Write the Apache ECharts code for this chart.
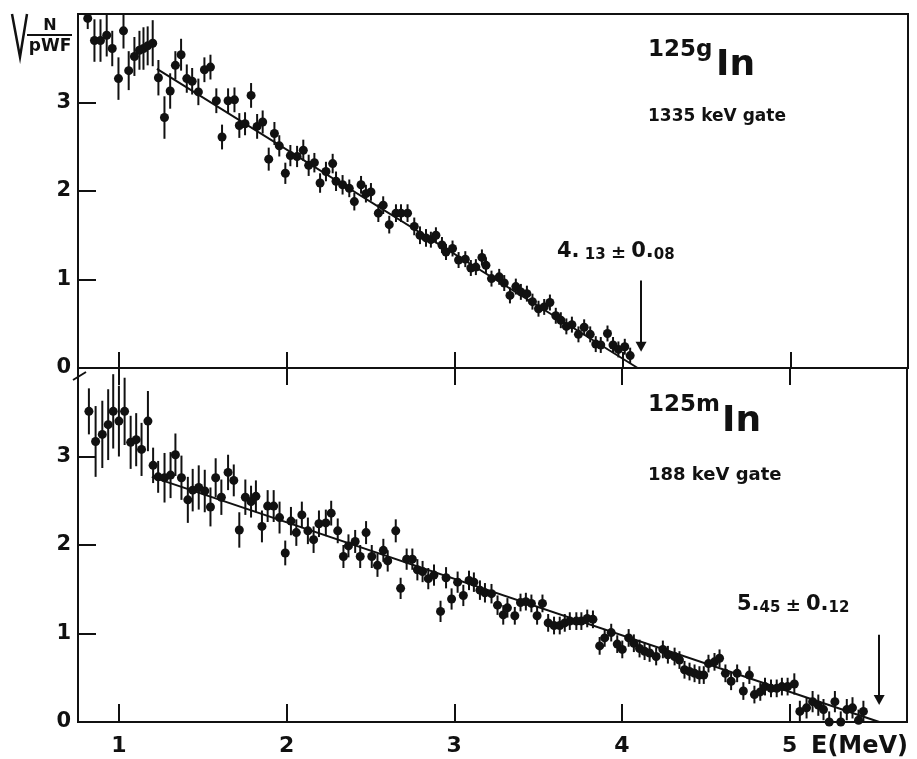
<!DOCTYPE html>
<html>
<head>
<meta charset="utf-8">
<script src="https://cdn.jsdelivr.net/npm/echarts@6/dist/echarts.min.js"></script>
<style>
  html, body { margin: 0; padding: 0; background: #fff; }
  #chart { width: 917px; height: 759px; }
</style>
</head>
<body>
<div id="chart"></div>
<script>
// energy axis (MeV)
const xTicks = [1, 2, 3, 4, 5];
const yTicks = [0, 1, 2, 3];

// 125g In, 1335 keV gate: [E, sqrt(N/pWF), error]
const topPoints = [
  [0.814, 3.95, 0.12], [0.854, 3.70, 0.24], [0.890, 3.70, 0.24], [0.927, 3.76, 0.24],
  [0.960, 3.61, 0.20], [0.997, 3.27, 0.24], [1.027, 3.81, 0.20], [1.058, 3.36, 0.22],
  [1.092, 3.52, 0.22], [1.122, 3.59, 0.22], [1.146, 3.61, 0.24], [1.171, 3.64, 0.22],
  [1.201, 3.67, 0.26], [1.235, 3.28, 0.20], [1.271, 2.83, 0.24], [1.305, 3.13, 0.20],
  [1.336, 3.42, 0.16], [1.370, 3.54, 0.18], [1.404, 3.27, 0.16], [1.436, 3.24, 0.15],
  [1.473, 3.12, 0.15], [1.509, 3.37, 0.14], [1.545, 3.40, 0.14], [1.580, 3.02, 0.14],
  [1.614, 2.61, 0.14], [1.650, 3.02, 0.14], [1.688, 3.03, 0.14], [1.717, 2.74, 0.14],
  [1.751, 2.76, 0.13], [1.787, 3.08, 0.14], [1.823, 2.73, 0.14], [1.856, 2.78, 0.13],
  [1.892, 2.36, 0.13], [1.926, 2.65, 0.13], [1.955, 2.51, 0.12], [1.991, 2.20, 0.12],
  [2.021, 2.40, 0.12], [2.061, 2.39, 0.12], [2.098, 2.46, 0.12], [2.130, 2.29, 0.12],
  [2.164, 2.32, 0.11], [2.198, 2.09, 0.11], [2.233, 2.22, 0.11], [2.273, 2.31, 0.11],
  [2.293, 2.11, 0.11], [2.332, 2.07, 0.11], [2.372, 2.03, 0.10], [2.402, 1.88, 0.10],
  [2.442, 2.07, 0.10], [2.471, 1.97, 0.10], [2.501, 1.99, 0.10], [2.545, 1.75, 0.10],
  [2.574, 1.84, 0.10], [2.610, 1.62, 0.10], [2.650, 1.75, 0.10], [2.680, 1.75, 0.10],
  [2.719, 1.75, 0.10], [2.759, 1.60, 0.10], [2.793, 1.50, 0.10], [2.829, 1.47, 0.10],
  [2.858, 1.45, 0.09], [2.888, 1.50, 0.09], [2.924, 1.39, 0.09], [2.948, 1.31, 0.09],
  [2.987, 1.35, 0.09], [3.023, 1.22, 0.09], [3.063, 1.23, 0.09], [3.096, 1.13, 0.09],
  [3.126, 1.14, 0.09], [3.162, 1.25, 0.09], [3.186, 1.16, 0.09], [3.219, 1.01, 0.09],
  [3.265, 1.03, 0.09], [3.295, 0.96, 0.09], [3.329, 0.82, 0.09], [3.364, 0.92, 0.09],
  [3.394, 0.86, 0.09], [3.430, 0.84, 0.09], [3.463, 0.75, 0.09], [3.499, 0.67, 0.09],
  [3.533, 0.69, 0.09], [3.567, 0.74, 0.09], [3.602, 0.59, 0.09], [3.632, 0.54, 0.09],
  [3.665, 0.47, 0.09], [3.698, 0.49, 0.09], [3.737, 0.38, 0.09], [3.771, 0.46, 0.09],
  [3.807, 0.38, 0.09], [3.840, 0.27, 0.09], [3.870, 0.26, 0.09], [3.910, 0.39, 0.09],
  [3.943, 0.26, 0.09], [3.975, 0.21, 0.09], [4.013, 0.24, 0.09], [4.045, 0.14, 0.09]
];
const topFit = [[1.226, 3.38], [4.09, 0]];
const topArrow = [[4.11, 0.99], [4.11, 0.24]];

// 125m In, 188 keV gate: [E, sqrt(N/pWF), error]
const botPoints = [
  [0.821, 3.51, 0.26], [0.861, 3.17, 0.40], [0.901, 3.25, 0.38], [0.936, 3.36, 0.40],
  [0.966, 3.51, 0.42], [1.000, 3.40, 0.40], [1.034, 3.51, 0.38], [1.070, 3.16, 0.30],
  [1.103, 3.19, 0.30], [1.135, 3.08, 0.30], [1.173, 3.40, 0.34], [1.204, 2.90, 0.20],
  [1.234, 2.77, 0.18], [1.272, 2.76, 0.28], [1.308, 2.79, 0.26], [1.337, 3.02, 0.24],
  [1.373, 2.76, 0.25], [1.411, 2.51, 0.26], [1.440, 2.62, 0.24], [1.476, 2.65, 0.25],
  [1.512, 2.61, 0.24], [1.546, 2.43, 0.22], [1.577, 2.76, 0.22], [1.611, 2.54, 0.20],
  [1.651, 2.82, 0.20], [1.685, 2.73, 0.18], [1.718, 2.17, 0.20], [1.754, 2.54, 0.20],
  [1.788, 2.49, 0.18], [1.817, 2.55, 0.18], [1.853, 2.21, 0.18], [1.887, 2.44, 0.18],
  [1.923, 2.44, 0.18], [1.958, 2.31, 0.18], [1.992, 1.91, 0.14], [2.026, 2.27, 0.16],
  [2.058, 2.14, 0.15], [2.091, 2.34, 0.15], [2.127, 2.16, 0.15], [2.161, 2.06, 0.15],
  [2.193, 2.24, 0.15], [2.234, 2.25, 0.15], [2.266, 2.36, 0.14], [2.305, 2.16, 0.14],
  [2.339, 1.87, 0.13], [2.369, 1.99, 0.13], [2.409, 2.04, 0.13], [2.439, 1.87, 0.13],
  [2.474, 2.14, 0.13], [2.508, 1.87, 0.13], [2.542, 1.77, 0.13], [2.577, 1.94, 0.13],
  [2.603, 1.82, 0.12], [2.651, 2.16, 0.13], [2.680, 1.51, 0.12], [2.716, 1.84, 0.12],
  [2.750, 1.84, 0.12], [2.780, 1.72, 0.12], [2.811, 1.70, 0.12], [2.845, 1.62, 0.12],
  [2.879, 1.66, 0.12], [2.918, 1.25, 0.12], [2.951, 1.63, 0.12], [2.984, 1.39, 0.12],
  [3.020, 1.58, 0.12], [3.054, 1.43, 0.12], [3.088, 1.60, 0.11], [3.117, 1.58, 0.11],
  [3.153, 1.49, 0.11], [3.183, 1.46, 0.11], [3.222, 1.45, 0.11], [3.258, 1.32, 0.11],
  [3.292, 1.21, 0.11], [3.317, 1.29, 0.11], [3.361, 1.20, 0.10], [3.395, 1.35, 0.10],
  [3.427, 1.36, 0.10], [3.460, 1.34, 0.10], [3.494, 1.20, 0.10], [3.526, 1.34, 0.10],
  [3.560, 1.12, 0.10], [3.595, 1.09, 0.10], [3.629, 1.09, 0.10], [3.659, 1.12, 0.10],
  [3.689, 1.14, 0.10], [3.728, 1.14, 0.10], [3.758, 1.14, 0.10], [3.793, 1.17, 0.10],
  [3.827, 1.16, 0.10], [3.867, 0.86, 0.10], [3.897, 0.95, 0.10], [3.936, 1.01, 0.10],
  [3.972, 0.88, 0.10], [4.002, 0.82, 0.10], [4.040, 0.95, 0.10], [4.071, 0.89, 0.10],
  [4.105, 0.83, 0.10], [4.135, 0.80, 0.10], [4.165, 0.78, 0.10], [4.204, 0.74, 0.10],
  [4.244, 0.82, 0.10], [4.274, 0.76, 0.10], [4.314, 0.74, 0.10], [4.343, 0.70, 0.10],
  [4.373, 0.59, 0.10], [4.403, 0.57, 0.10], [4.433, 0.55, 0.10], [4.462, 0.53, 0.10],
  [4.488, 0.53, 0.10], [4.516, 0.66, 0.10], [4.552, 0.68, 0.10], [4.582, 0.72, 0.10],
  [4.617, 0.55, 0.10], [4.651, 0.46, 0.10], [4.687, 0.55, 0.10], [4.724, 0.35, 0.10],
  [4.760, 0.53, 0.10], [4.790, 0.31, 0.10], [4.825, 0.34, 0.10], [4.853, 0.40, 0.10],
  [4.889, 0.38, 0.10], [4.923, 0.38, 0.10], [4.954, 0.40, 0.10], [4.988, 0.40, 0.10],
  [5.028, 0.43, 0.12], [5.061, 0.12, 0.12], [5.101, 0.16, 0.12], [5.137, 0.23, 0.12],
  [5.171, 0.19, 0.12], [5.202, 0.14, 0.12], [5.236, 0.00, 0.12], [5.270, 0.23, 0.12],
  [5.305, 0.00, 0.12], [5.341, 0.14, 0.12], [5.375, 0.16, 0.12], [5.411, 0.02, 0.12],
  [5.440, 0.12, 0.12]
];
const botFit = [[1.196, 2.77], [5.535, 0]];
const botArrow = [[5.534, 0.985], [5.534, 0.25]];

const FONT = "'DejaVu Sans', 'Liberation Sans', sans-serif";
const INK = "#111";
const xMin = 0.756, xMax = 5.70, yMax = 4;

const errorBars = (params, api) => {
  const x = api.value(0), y = api.value(1), e = api.value(2);
  const lo = api.coord([x, Math.max(y - e, 0)]);
  const hi = api.coord([x, Math.min(y + e, yMax)]);
  return {
    type: "line",
    shape: { x1: lo[0], y1: lo[1], x2: hi[0], y2: hi[1] },
    style: { stroke: INK, lineWidth: 2 },
  };
};

const arrowLine = (pts) => ({
  silent: true,
  symbol: ["none", "triangle"],
  symbolSize: [11, 10],
  label: { show: false },
  lineStyle: { color: INK, width: 2, type: "solid" },
  data: [[{ coord: pts[0] }, { coord: pts[1] }]],
});

// value with a big leading digit and small decimals, like the figure's lettering
const richValue = {
  b: { fontFamily: FONT, fontWeight: "bold", fontSize: 21, verticalAlign: "bottom", fill: INK },
  s: { fontFamily: FONT, fontWeight: "bold", fontSize: 15, verticalAlign: "bottom", fill: INK },
  pm: { fontFamily: FONT, fontWeight: "bold", fontSize: 18, verticalAlign: "bottom", fill: INK },
};

const xAxisBase = {
  type: "value",
  min: xMin,
  max: xMax,
  splitLine: { show: false },
  axisLine: { lineStyle: { color: INK, width: 2 } },
};
const yAxisBase = {
  type: "value",
  min: 0,
  max: yMax,
  interval: 1,
  splitLine: { show: false },
  axisLine: { lineStyle: { color: INK, width: 2 } },
  axisTick: { inside: true, length: 18, customValues: yTicks, lineStyle: { color: INK, width: 2 } },
  axisLabel: {
    customValues: yTicks,
    margin: 7,
    fontFamily: FONT,
    fontWeight: "bold",
    fontSize: 21,
    color: INK,
  },
};

const option = {
  animation: false,
  backgroundColor: "#fff",
  grid: [
    { left: 78, top: 14, width: 830, height: 354, show: true, borderColor: INK, borderWidth: 2 },
    { left: 78, top: 368, width: 829, height: 354, show: true, borderColor: INK, borderWidth: 2 },
  ],
  xAxis: [
    {
      ...xAxisBase,
      gridIndex: 0,
      position: "bottom",
      axisTick: { inside: true, length: 16, customValues: xTicks, lineStyle: { color: INK, width: 2 } },
      axisLabel: { show: false },
    },
    {
      ...xAxisBase,
      gridIndex: 1,
      position: "bottom",
      axisTick: { inside: true, length: 18, customValues: xTicks, lineStyle: { color: INK, width: 2 } },
      axisLabel: {
        customValues: xTicks,
        margin: 13,
        fontFamily: FONT,
        fontWeight: "bold",
        fontSize: 22,
        color: INK,
      },
    },
    {
      ...xAxisBase,
      gridIndex: 1,
      position: "top",
      axisTick: { inside: true, length: 17, customValues: xTicks, lineStyle: { color: INK, width: 2 } },
      axisLabel: { show: false },
    },
  ],
  yAxis: [
    { ...yAxisBase, gridIndex: 0 },
    { ...yAxisBase, gridIndex: 1 },
  ],
  series: [
    {
      type: "custom",
      xAxisIndex: 0,
      yAxisIndex: 0,
      renderItem: errorBars,
      encode: { x: 0, y: 1 },
      data: topPoints,
      silent: true,
    },
    {
      type: "scatter",
      xAxisIndex: 0,
      yAxisIndex: 0,
      symbolSize: 9,
      itemStyle: { color: INK, opacity: 1 },
      encode: { x: 0, y: 1 },
      data: topPoints,
      silent: true,
    },
    {
      type: "line",
      xAxisIndex: 0,
      yAxisIndex: 0,
      showSymbol: false,
      lineStyle: { color: INK, width: 2 },
      data: topFit,
      markLine: arrowLine(topArrow),
      silent: true,
    },
    {
      type: "custom",
      xAxisIndex: 1,
      yAxisIndex: 1,
      renderItem: errorBars,
      encode: { x: 0, y: 1 },
      data: botPoints,
      silent: true,
    },
    {
      type: "scatter",
      xAxisIndex: 1,
      yAxisIndex: 1,
      symbolSize: 9,
      itemStyle: { color: INK, opacity: 1 },
      encode: { x: 0, y: 1 },
      data: botPoints,
      silent: true,
    },
    {
      type: "line",
      xAxisIndex: 1,
      yAxisIndex: 1,
      showSymbol: false,
      lineStyle: { color: INK, width: 2 },
      data: botFit,
      markLine: arrowLine(botArrow),
      silent: true,
    },
  ],
  graphic: [
    // y axis title: sqrt(N / pWF)
    { type: "polyline", shape: { points: [[12, 14], [20, 57], [27, 14]] }, style: { stroke: INK, lineWidth: 2.5, fill: null } },
    { type: "line", shape: { x1: 27, y1: 35, x2: 72, y2: 35 }, style: { stroke: INK, lineWidth: 2 } },
    { type: "text", x: 50, y: 26, style: { text: "N", font: "bold 16px " + FONT, fill: INK, align: "center", verticalAlign: "middle" } },
    { type: "text", x: 50, y: 47, style: { text: "pWF", font: "bold 17px " + FONT, fill: INK, align: "center", verticalAlign: "middle" } },
    // axis break mark
    { type: "line", shape: { x1: 73, y1: 380, x2: 86, y2: 372 }, style: { stroke: INK, lineWidth: 2 } },
    // panel labels
    { type: "text", x: 648, y: 50, style: { text: "125g", font: "bold 23px " + FONT, fill: INK, align: "left", verticalAlign: "middle" } },
    { type: "text", x: 716, y: 66, style: { text: "In", font: "bold 36px " + FONT, fill: INK, align: "left", verticalAlign: "middle" } },
    { type: "text", x: 648, y: 117, style: { text: "1335 keV gate", font: "bold 17px " + FONT, fill: INK, align: "left", verticalAlign: "middle" } },
    { type: "text", x: 648, y: 405, style: { text: "125m", font: "bold 23px " + FONT, fill: INK, align: "left", verticalAlign: "middle" } },
    { type: "text", x: 722, y: 422, style: { text: "In", font: "bold 36px " + FONT, fill: INK, align: "left", verticalAlign: "middle" } },
    { type: "text", x: 648, y: 475, style: { text: "188 keV gate", font: "bold 18px " + FONT, fill: INK, align: "left", verticalAlign: "middle" } },
    {
      type: "text", x: 557, y: 252,
      style: { text: "{b|4.}{s| 13 }{pm|±}{s| }{b|0.}{s|08}", align: "left", verticalAlign: "middle", fill: INK, rich: richValue },
    },
    {
      type: "text", x: 737, y: 605,
      style: { text: "{b|5.}{s|45 }{pm|±}{s| }{b|0.}{s|12}", align: "left", verticalAlign: "middle", fill: INK, rich: richValue },
    },
    { type: "text", x: 811, y: 747, style: { text: "E(MeV)", font: "bold 24px " + FONT, fill: INK, align: "left", verticalAlign: "middle" } },
  ],
};

const chart = echarts.init(document.getElementById("chart"));
chart.setOption(option);
</script>
</body>
</html>
